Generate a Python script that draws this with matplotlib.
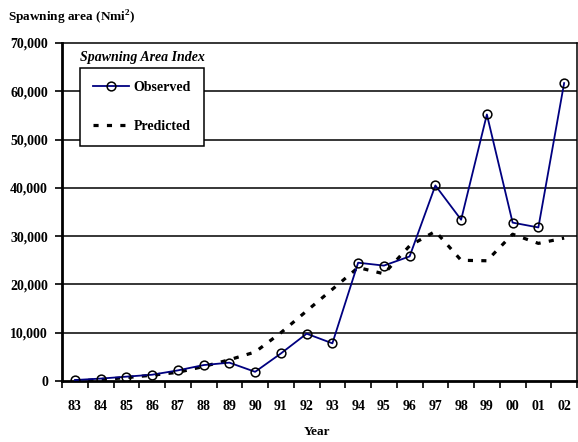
import matplotlib
matplotlib.use("Agg")
import matplotlib.pyplot as plt
import numpy as np

years = ["83", "84", "85", "86", "87", "88", "89", "90", "91", "92",
         "93", "94", "95", "96", "97", "98", "99", "00", "01", "02"]
observed = [200, 500, 900, 1300, 2200, 3300, 3800, 1900, 5700, 9800,
            7800, 24500, 23900, 25800, 40500, 33400, 55200, 32800, 31800, 61700]
predicted = [0, 300, 700, 1200, 1800, 3000, 4400, 6000, 10000, 14500,
             19000, 23500, 22200, 28000, 31000, 25000, 24900, 30400, 28500, 29600]
y_ticks = [0, 10000, 20000, 30000, 40000, 50000, 60000, 70000]

plt.rcParams['font.family'] = ['Liberation Serif', 'DejaVu Serif']
plt.rcParams['font.weight'] = 'bold'
plt.rcParams['mathtext.fontset'] = 'custom'
plt.rcParams['mathtext.rm'] = 'Liberation Serif:bold'
plt.rcParams['mathtext.bf'] = 'Liberation Serif:bold'

fig = plt.figure(figsize=(5.78, 4.42), dpi=100)
ax = fig.add_axes([62 / 578, 61 / 442, 515 / 578, 338 / 442])

x = np.arange(len(years))
for t in y_ticks[1:-1]:
    ax.axhline(t, color='black', linewidth=1.1, zorder=1)

ax.plot(x, predicted, color='black', linewidth=2.3, linestyle=(0, (1.6, 2.6)),
        label='Predicted', zorder=2)
ax.plot(x, observed, color='#000080', linewidth=1.3, marker='o', markersize=6.3,
        markerfacecolor='none', markeredgecolor='black', markeredgewidth=1.1,
        label='Observed', zorder=3)

ax.set_xlim(-0.5, len(years) - 0.5)
ax.set_ylim(0, 70000)
ax.set_xticks(x)
ax.set_xticklabels(years)
ax.set_xticks(np.arange(len(years) + 1) - 0.5, minor=True)
ax.tick_params(axis='x', which='major', length=0, pad=14, labelsize=10)
ax.tick_params(axis='x', which='minor', length=5, width=1.2, direction='out')
ax.set_yticks(y_ticks)
ax.set_yticklabels([f"{v:,}" for v in y_ticks])
ax.tick_params(axis='y', length=5, width=1.2, direction='out', labelsize=10, pad=5)

for side in ['left', 'bottom']:
    ax.spines[side].set_linewidth(2)
for side in ['top', 'right']:
    ax.spines[side].set_linewidth(1.1)

handles, labels = ax.get_legend_handles_labels()
leg = ax.legend(handles[::-1], labels[::-1], loc='upper left',
                bbox_to_anchor=(80 / 578, 1 - 68 / 442), bbox_transform=fig.transFigure,
                frameon=True, fancybox=False, edgecolor='black', framealpha=1,
                handlelength=2.6, handletextpad=0.3, labelspacing=1.85,
                borderpad=0.95, borderaxespad=0, fontsize=10)
leg.get_frame().set_linewidth(1.1)

fig.text(80 / 578, 1 - 57 / 442, "Spawning Area Index", style='italic',
         fontsize=10, va='center', ha='left')
fig.text(8 / 578, 1 - 18 / 442, r"Spawning area (Nmi$^{2}$)", fontsize=9.5,
         va='center', ha='left')
fig.text(317 / 578, 1 - 432 / 442, "Year", fontsize=9.5, va='center', ha='center')

fig.savefig("out.png", dpi=100)
